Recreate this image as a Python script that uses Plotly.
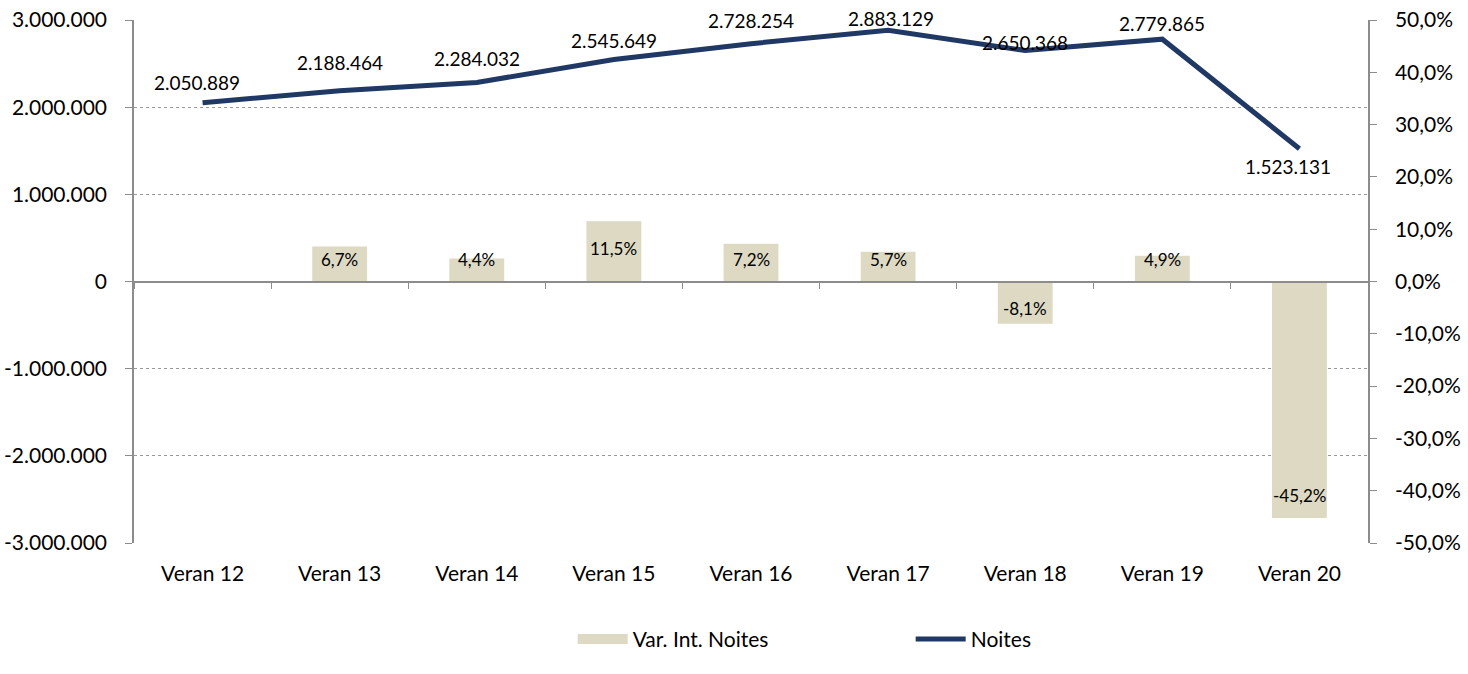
import plotly.graph_objects as go

categories = ["Veran 12", "Veran 13", "Veran 14", "Veran 15", "Veran 16",
              "Veran 17", "Veran 18", "Veran 19", "Veran 20"]
noites = [2050889, 2188464, 2284032, 2545649, 2728254, 2883129, 2650368, 2779865, 1523131]
var_int = [None, 6.7, 4.4, 11.5, 7.2, 5.7, -8.1, 4.9, -45.2]

left_tickvals = [3000000, 2000000, 1000000, 0, -1000000, -2000000, -3000000]
left_ticktext = ["3.000.000", "2.000.000", "1.000.000", "0", "-1.000.000", "-2.000.000", "-3.000.000"]
right_tickvals = [50, 40, 30, 20, 10, 0, -10, -20, -30, -40, -50]
right_ticktext = ["50,0%", "40,0%", "30,0%", "20,0%", "10,0%", "0,0%", "-10,0%", "-20,0%",
                  "-30,0%", "-40,0%", "-50,0%"]

# label offsets (style, in px) for the line labels and bar labels
label_yshift = [20, 28, 24, 19, 23, 12, 8, 16, -18]
label_xshift = [-6, 0, 0, 0, 0, 3, 0, 0, -11]
bar_label_yshift = [0, -13, -1, -27, -16, -8, 15, -4, 22]

FONT = "Lato"
LINE_COLOR = "#1F3864"
BAR_COLOR = "#DDD9C3"
AXIS_COLOR = "#8C8C8C"

def fmt_int(v):
    return f"{v:,}".replace(",", ".")

def fmt_pct(v):
    return f"{v:.1f}".replace(".", ",") + "%"

fig = go.Figure()

fig.add_trace(go.Bar(
    x=categories, y=var_int, name="Var. Int. Noites", showlegend=False,
    marker=dict(color=BAR_COLOR, line=dict(width=0)),
    width=0.4, yaxis="y2",
))

# legend swatch for the bars (Excel-style wide rectangle)
fig.add_trace(go.Scatter(
    x=[None], y=[None], name="Var. Int. Noites", mode="lines",
    line=dict(color=BAR_COLOR, width=16), yaxis="y2", hoverinfo="skip",
))

fig.add_trace(go.Scatter(
    x=categories, y=noites, name="Noites", mode="lines",
    line=dict(color=LINE_COLOR, width=5),
    yaxis="y",
))

# invisible trace to activate zero-level axis
fig.add_trace(go.Scatter(x=[None], y=[None], xaxis="x2", yaxis="y",
                         showlegend=False, hoverinfo="skip"))

annotations = []
for c, v, dy, dx in zip(categories, noites, label_yshift, label_xshift):
    annotations.append(dict(
        x=c, y=v, xref="x", yref="y", text=fmt_int(v), showarrow=False,
        yshift=dy, xshift=dx, font=dict(family=FONT, size=19, color="#000000"),
    ))
for c, v, dy in zip(categories, var_int, bar_label_yshift):
    if v is None:
        continue
    annotations.append(dict(
        x=c, y=v, xref="x", yref="y2", text=fmt_pct(v), showarrow=False,
        yshift=dy, font=dict(family=FONT, size=17, color="#000000"),
    ))

fig.update_layout(
    width=1468, height=674,
    margin=dict(l=134, r=100, t=20, b=131, autoexpand=False),
    paper_bgcolor="white", plot_bgcolor="white",
    font=dict(family=FONT, size=21, color="#000000"),
    showlegend=True,
    legend=dict(orientation="h", x=0.3555, xanchor="left", y=-0.145, yanchor="top",
                font=dict(family=FONT, size=21), entrywidth=273, itemwidth=50,
                tracegroupgap=0),
    annotations=annotations,
    xaxis=dict(
        type="category", categoryarray=categories, range=[-0.5, 8.5],
        showline=False, ticks="", showgrid=False, zeroline=False, automargin=False,
        tickfont=dict(family=FONT, size=21), ticklabelstandoff=16,
    ),
    xaxis2=dict(
        overlaying="x", anchor="free", position=0.5, range=[-0.5, 8.5],
        tick0=-0.5, dtick=1, showticklabels=False, ticks="outside", ticklen=7,
        tickcolor=AXIS_COLOR, showline=True, linecolor=AXIS_COLOR, linewidth=1.5,
        showgrid=False, zeroline=False, automargin=False,
    ),
    yaxis=dict(
        range=[-3000000, 3000000], tickvals=left_tickvals, ticktext=left_ticktext,
        showgrid=True, gridcolor="#999999", griddash="dot", gridwidth=1,
        zeroline=False, showline=True, linecolor=AXIS_COLOR, linewidth=1.5,
        ticks="outside", ticklen=7, tickcolor=AXIS_COLOR, automargin=False,
        tickfont=dict(family=FONT, size=21), ticklabelstandoff=14,
    ),
    yaxis2=dict(
        range=[-50, 50], overlaying="y", side="right", anchor="x",
        tickvals=right_tickvals, ticktext=right_ticktext,
        showgrid=False, zeroline=False, showline=True, linecolor=AXIS_COLOR, linewidth=1.5,
        ticks="outside", ticklen=7, tickcolor=AXIS_COLOR, automargin=False,
        tickfont=dict(family=FONT, size=21), ticklabelstandoff=14,
    ),
)

fig.write_html("out.html", config={"displayModeBar": False},
               post_script="document.body.style.margin='0';document.body.style.padding='0';")
